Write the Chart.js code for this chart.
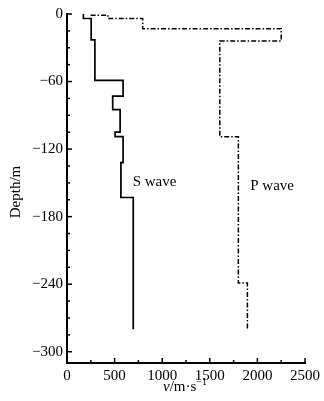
<!DOCTYPE html>
<html>
<head>
<meta charset="utf-8">
<script src="https://cdn.jsdelivr.net/npm/chart.js@4"></script>
<style>
  html, body { margin: 0; padding: 0; background: #fff; }
  canvas { display: block; }
</style>
</head>
<body>
<canvas id="chart" width="324" height="401"></canvas>
<script>
// velocity profile vertices (m/s, depth m)
const sVelocity = [172, 172, 254, 254, 293, 293, 589, 589, 480, 480, 558, 558, 505, 505, 589, 589, 566, 566, 696, 696];
const sDepth    = [0, -4, -4, -23, -23, -59, -59, -73, -73, -85, -85, -105, -105, -109, -109, -132, -132, -163, -163, -280];

const pVelocity = [248, 430, 430, 795, 795, 2250, 2250, 1605, 1605, 1800, 1800, 1895, 1895];
const pDepth    = [-1, -1, -4, -4, -13, -13, -24, -24, -109, -109, -239, -239, -280];

const xTicks = [0, 500, 1000, 1500, 2000, 2500];
const yTicks = [0, -60, -120, -180, -240, -300];

const FONT = '"Liberation Serif", "Times New Roman", serif';
const toPoints = (xs, ys) => xs.map((x, i) => ({ x, y: ys[i] }));
const minus = v => String(v).replace('-', '\u2212');

// major ticks plus minor ones halfway/quarter between
function buildTicks(scale, from, to, step) {
  const ticks = [];
  for (let v = from; step > 0 ? v <= to : v >= to; v += step) ticks.push({ value: v });
  scale.ticks = ticks;
}

// inward tick marks + axis titles + curve labels
const decorations = {
  id: 'decorations',
  afterDraw(chart) {
    const { ctx, chartArea: a, scales: { x, y } } = chart;
    ctx.save();
    ctx.strokeStyle = '#000';
    ctx.lineWidth = 1.5;
    x.ticks.forEach(t => {
      const px = x.getPixelForValue(t.value);
      const len = xTicks.includes(t.value) ? 5 : 3;
      ctx.beginPath();
      ctx.moveTo(px, a.bottom);
      ctx.lineTo(px, a.bottom - len);
      ctx.stroke();
    });
    y.ticks.forEach(t => {
      const py = y.getPixelForValue(t.value);
      const len = yTicks.includes(t.value) ? 5 : 3;
      ctx.beginPath();
      ctx.moveTo(a.left, py);
      ctx.lineTo(a.left + len, py);
      ctx.stroke();
    });

    ctx.fillStyle = '#000';
    ctx.textBaseline = 'middle';

    // curve labels
    ctx.font = '15px ' + FONT;
    ctx.textAlign = 'left';
    ctx.fillText('S wave', x.getPixelForValue(690), y.getPixelForValue(-149));
    ctx.fillText('P wave', x.getPixelForValue(1925), y.getPixelForValue(-153));

    // y title
    ctx.save();
    ctx.translate(16, 192);
    ctx.rotate(-Math.PI / 2);
    ctx.textAlign = 'center';
    ctx.fillText('Depth/m', 0, 0);
    ctx.restore();

    // x title: v/m·s^-1
    const parts = [
      { t: 'v', f: 'italic 15px ' + FONT, dy: 0 },
      { t: '/m\u00b7s', f: '15px ' + FONT, dy: 0 },
      { t: '\u22121', f: '10px ' + FONT, dy: -5 }
    ];
    let total = 0;
    parts.forEach(p => { ctx.font = p.f; total += ctx.measureText(p.t).width; });
    let cx = 185 - total / 2;
    const ty = 387;
    ctx.textAlign = 'left';
    parts.forEach(p => {
      ctx.font = p.f;
      ctx.fillText(p.t, cx, ty + p.dy);
      cx += ctx.measureText(p.t).width;
    });
    ctx.restore();
  }
};

new Chart(document.getElementById('chart'), {
  type: 'scatter',
  data: {
    datasets: [
      {
        label: 'S wave',
        data: toPoints(sVelocity, sDepth),
        showLine: true,
        borderColor: '#000',
        borderWidth: 1.7,
        pointRadius: 0,
        fill: false
      },
      {
        label: 'P wave',
        data: toPoints(pVelocity, pDepth),
        showLine: true,
        borderColor: '#000',
        borderWidth: 1.5,
        borderDash: [5, 2, 1.5, 2],
        pointRadius: 0,
        fill: false
      }
    ]
  },
  options: {
    responsive: false,
    animation: false,
    layout: { padding: { top: 14, right: 6, left: 0, bottom: 0 } },
    plugins: { legend: { display: false }, tooltip: { enabled: false } },
    scales: {
      x: {
        type: 'linear',
        min: 0,
        max: 2500,
        grid: { display: false, drawTicks: false },
        border: { display: true, color: '#000', width: 2 },
        afterBuildTicks: s => buildTicks(s, 0, 2500, 250),
        ticks: {
          autoSkip: false,
          maxRotation: 0,
          padding: 4,
          color: '#000',
          font: { family: FONT, size: 15 },
          callback: v => xTicks.includes(v) ? String(v) : ''
        },
        afterFit: s => { s.height = 38; }
      },
      y: {
        type: 'linear',
        min: -310,
        max: 0,
        grid: { display: false, drawTicks: false },
        border: { display: true, color: '#000', width: 2 },
        afterBuildTicks: s => buildTicks(s, 0, -300, -15),
        ticks: {
          autoSkip: false,
          padding: 4,
          color: '#000',
          font: { family: FONT, size: 15 },
          callback: v => yTicks.includes(v) ? minus(v) : ''
        },
        afterFit: s => { s.width = 67; }
      }
    }
  },
  plugins: [decorations]
});
</script>
</body>
</html>
